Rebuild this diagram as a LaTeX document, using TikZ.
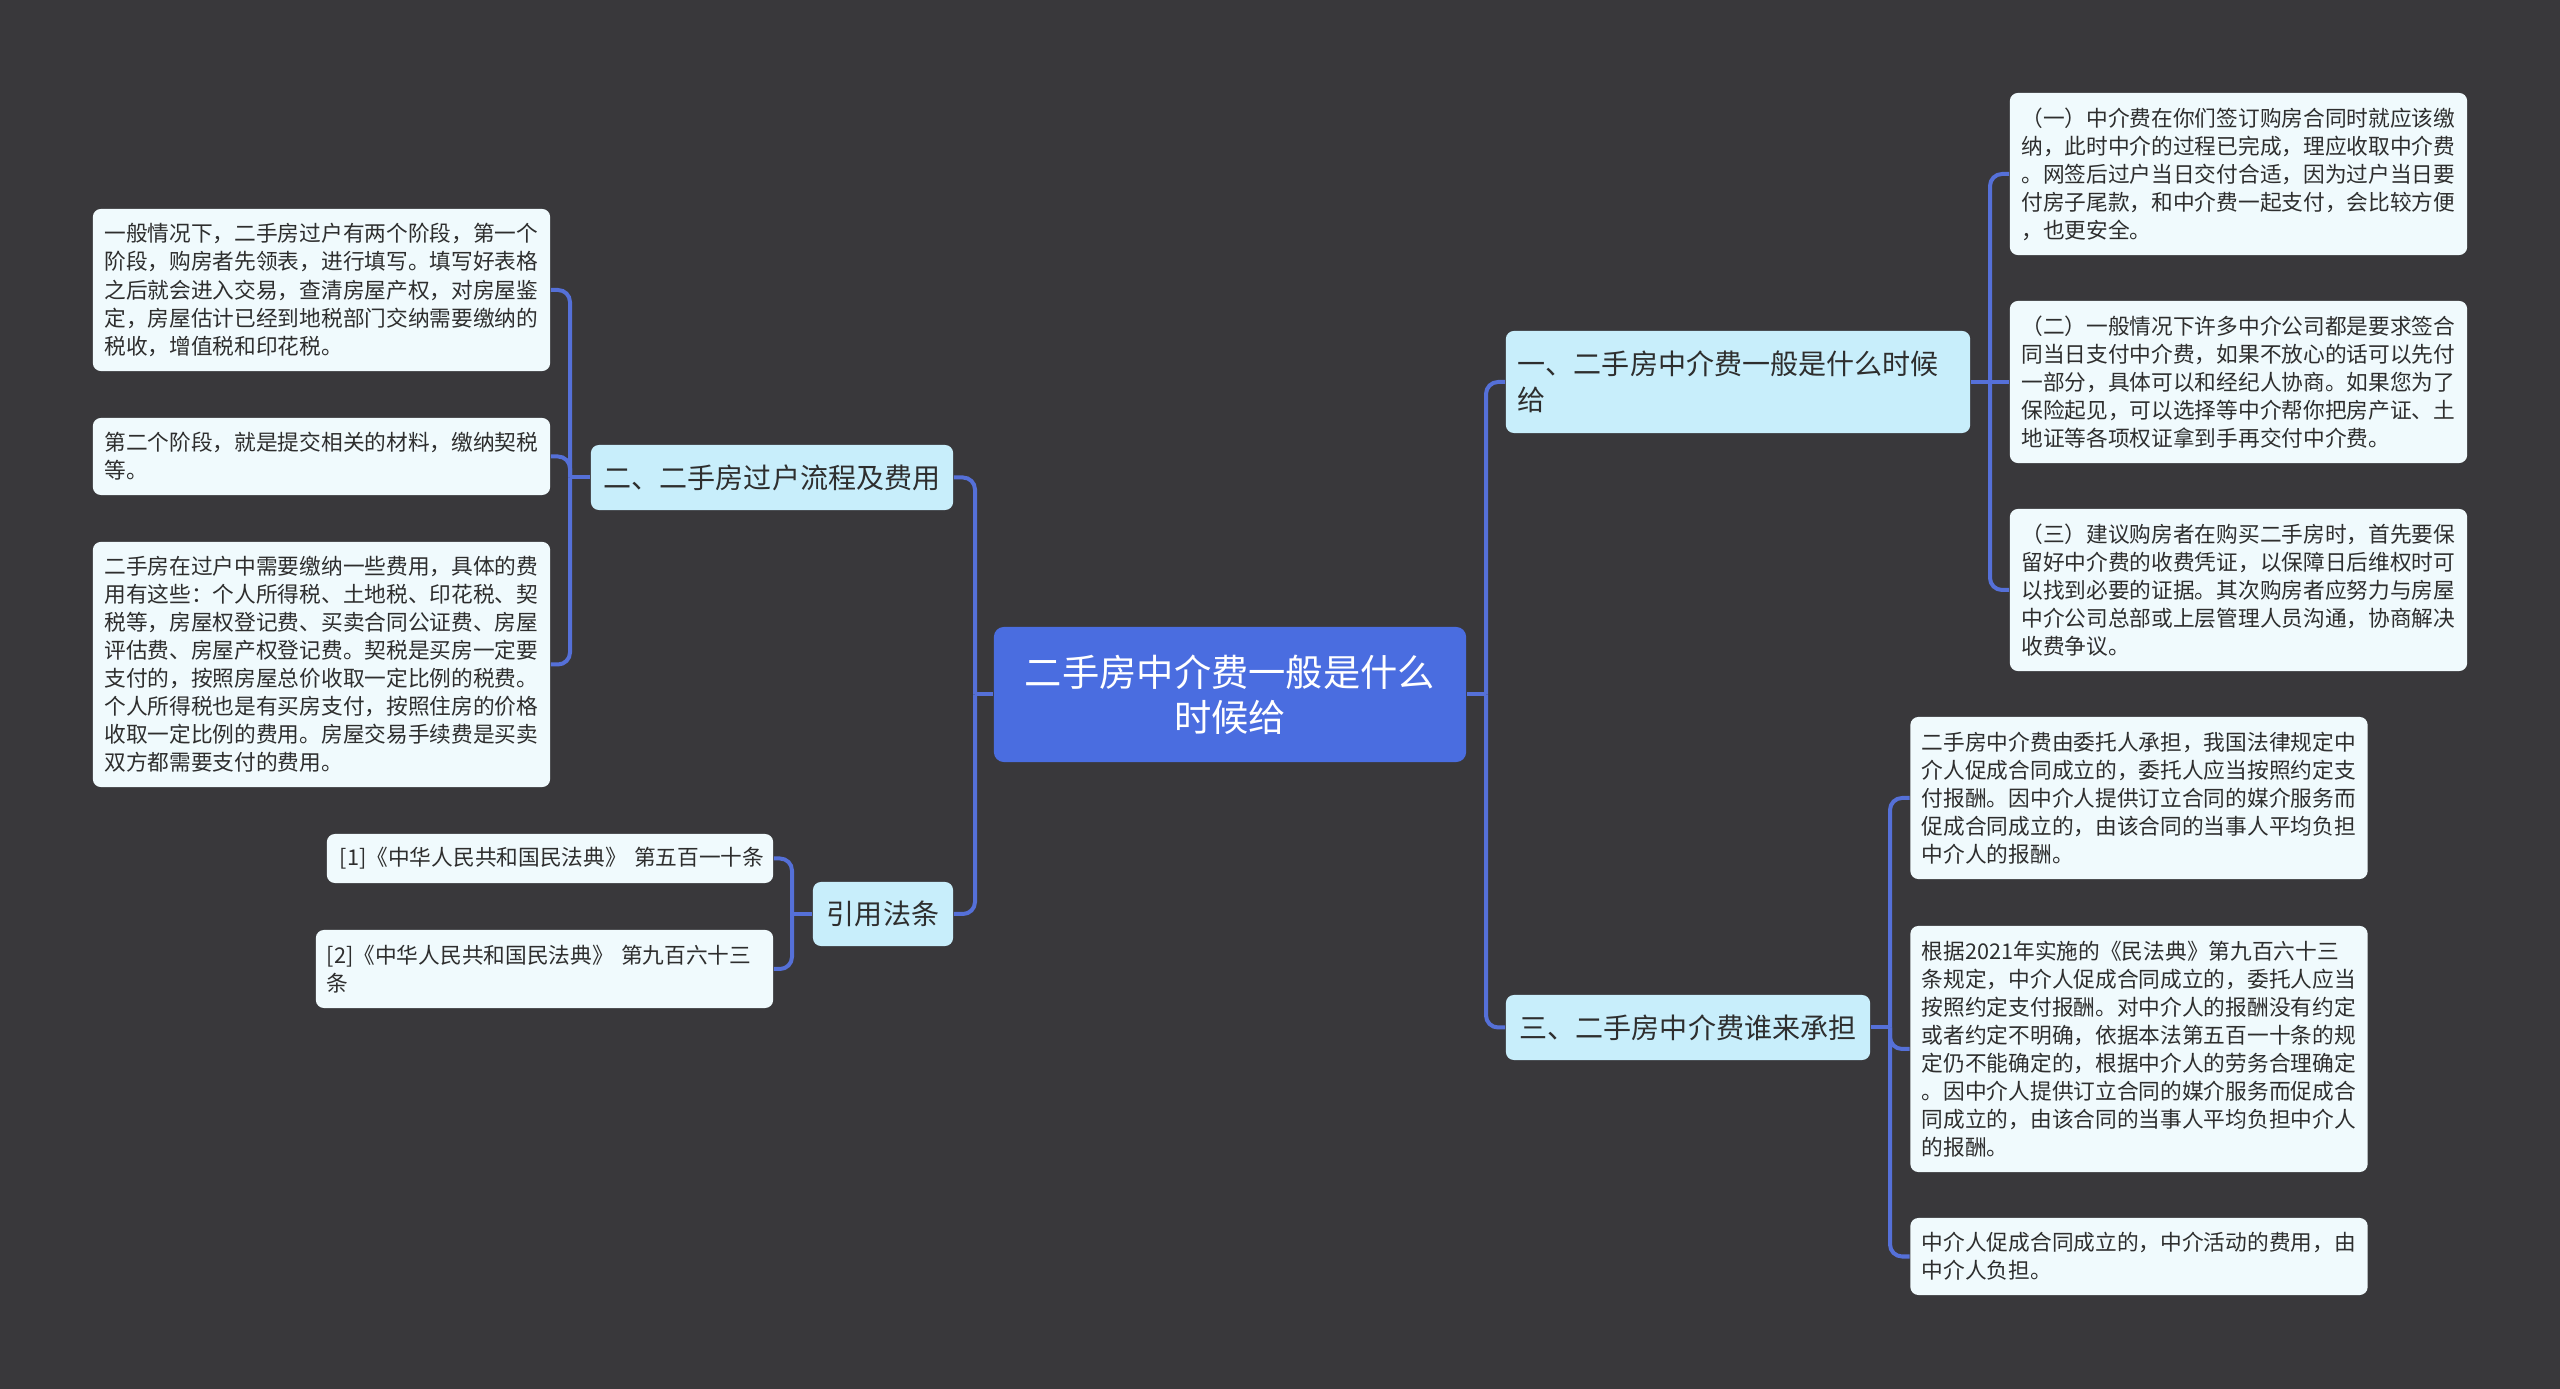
\documentclass[tikz,border=0pt]{standalone}
\usepackage{fontspec}
\setmainfont{Noto Sans CJK SC}
\definecolor{bgc}{HTML}{39383B}
\definecolor{centerc}{HTML}{4A6DE0}
\definecolor{branchc}{HTML}{C8EEFB}
\definecolor{leafc}{HTML}{F0FAFD}
\definecolor{linec}{HTML}{5570D8}
\definecolor{txtc}{HTML}{2E2E2E}
\tikzset{
  leafbox/.style={fill=leafc, rounded corners=0.08cm, text=txtc, inner xsep=0.115cm, inner ysep=0pt,
    text width=4.34cm, align=left, font=\fontsize{6.17pt}{7.97pt}\selectfont},
  citebox/.style={fill=leafc, rounded corners=0.08cm, text=txtc, inner xsep=0.11cm, inner ysep=0pt,
    align=left, font=\fontsize{6.17pt}{7.97pt}\selectfont},
  branchbox/.style={fill=branchc, rounded corners=0.08cm, text=txtc, inner xsep=0.12cm, inner ysep=0pt,
    font=\fontsize{7.97pt}{10.25pt}\selectfont},
  centerbox/.style={fill=centerc, rounded corners=0.1cm, text=white, inner sep=0pt, align=center,
    minimum width=4.72cm, minimum height=1.35cm, font=\fontsize{10.6pt}{12.8pt}\selectfont},
  conn/.style={draw=linec, line width=0.04cm, rounded corners=0.12cm}
}
\begin{document}
\begin{tikzpicture}[x=0.01cm,y=-0.01cm]
\fill[bgc] (0,0) rectangle (2560,1389);
\useasboundingbox (0,0) rectangle (2560,1389);

% root and main branches
\node[centerbox] (root) at (1230,694.5) {二手房中介费一般是什么\\时候给};
\node[branchbox, minimum width=3.62cm, minimum height=0.65cm] (b2) at (772,477.5) {二、二手房过户流程及费用};
\node[branchbox, minimum width=1.40cm, minimum height=0.64cm] (cite) at (883,914) {引用法条};
\node[branchbox, text width=4.40cm, align=left, minimum height=1.02cm] (b1) at (1738,382) {一、二手房中介费一般是什么时候\\给};
\node[branchbox, minimum width=3.64cm, minimum height=0.65cm] (b3) at (1688,1027.5) {三、二手房中介费谁来承担};

% left leaves
\node[leafbox, minimum height=1.62cm] (LL1) at (321.5,290) {一般情况下，二手房过户有两个阶段，第一个\\阶段，购房者先领表，进行填写。填写好表格\\之后就会进入交易，查清房屋产权，对房屋鉴\\定，房屋估计已经到地税部门交纳需要缴纳的\\税收，增值税和印花税。};
\node[leafbox, minimum height=0.77cm] (LL2) at (321.5,456.5) {第二个阶段，就是提交相关的材料，缴纳契税\\等。};
\node[leafbox, minimum height=2.45cm] (LL3) at (321.5,664.5) {二手房在过户中需要缴纳一些费用，具体的费\\用有这些：个人所得税、土地税、印花税、契\\税等，房屋权登记费、买卖合同公证费、房屋\\评估费、房屋产权登记费。契税是买房一定要\\支付的，按照房屋总价收取一定比例的税费。\\个人所得税也是有买房支付，按照住房的价格\\收取一定比例的费用。房屋交易手续费是买卖\\双方都需要支付的费用。};

% citations
\node[citebox, text width=4.24cm, minimum height=0.49cm] (C1) at (550,858.5) {\hspace*{0.02cm}[1]《中华人民共和国民法典》~第五百一十条};
\node[citebox, text width=4.35cm, minimum height=0.78cm] (C2) at (544.5,969) {[2]《中华人民共和国民法典》~第九百六十三\\条};

% right leaves of branch 1
\node[leafbox, minimum height=1.62cm] (R1) at (2238.5,174) {（一）中介费在你们签订购房合同时就应该缴\\纳，此时中介的过程已完成，理应收取中介费\\。网签后过户当日交付合适，因为过户当日要\\付房子尾款，和中介费一起支付，会比较方便\\，也更安全。};
\node[leafbox, minimum height=1.62cm] (R2) at (2238.5,382) {（二）一般情况下许多中介公司都是要求签合\\同当日支付中介费，如果不放心的话可以先付\\一部分，具体可以和经纪人协商。如果您为了\\保险起见，可以选择等中介帮你把房产证、土\\地证等各项权证拿到手再交付中介费。};
\node[leafbox, minimum height=1.62cm] (R3) at (2238.5,590) {（三）建议购房者在购买二手房时，首先要保\\留好中介费的收费凭证，以保障日后维权时可\\以找到必要的证据。其次购房者应努力与房屋\\中介公司总部或上层管理人员沟通，协商解决\\收费争议。};

% right leaves of branch 3
\node[leafbox, minimum height=1.62cm] (T1) at (2139,798) {二手房中介费由委托人承担，我国法律规定中\\介人促成合同成立的，委托人应当按照约定支\\付报酬。因中介人提供订立合同的媒介服务而\\促成合同成立的，由该合同的当事人平均负担\\中介人的报酬。};
\node[leafbox, minimum height=2.46cm] (T2) at (2139,1049) {根据2021年实施的《民法典》第九百六十三\\条规定，中介人促成合同成立的，委托人应当\\按照约定支付报酬。对中介人的报酬没有约定\\或者约定不明确，依据本法第五百一十条的规\\定仍不能确定的，根据中介人的劳务合理确定\\。因中介人提供订立合同的媒介服务而促成合\\同成立的，由该合同的当事人平均负担中介人\\的报酬。};
\node[leafbox, minimum height=0.77cm] (T3) at (2139,1256.5) {中介人促成合同成立的，中介活动的费用，由\\中介人负担。};

% trunk positions
\coordinate (tc1) at (975,0);
\coordinate (tc2) at (1486,0);
\coordinate (tb2) at (570,0);
\coordinate (tci) at (792,0);
\coordinate (tb1) at (1990,0);
\coordinate (tb3) at (1890,0);

% connectors root
\draw[conn] (root.west) -- (tc1 |- root.west);
\draw[conn] (tc1 |- root.west) |- (b2.east);
\draw[conn] (tc1 |- root.west) |- (cite.east);
\draw[conn] (root.east) -- (tc2 |- root.east);
\draw[conn] (tc2 |- root.east) |- (b1.west);
\draw[conn] (tc2 |- root.east) |- (b3.west);

% connectors branch 2
\draw[conn] (b2.west) -- (tb2 |- b2.west);
\draw[conn] (tb2 |- b2.west) |- (LL1.east);
\draw[conn] (tb2 |- b2.west) |- (LL2.east);
\draw[conn] (tb2 |- b2.west) |- (LL3.east);

% connectors citations
\draw[conn] (cite.west) -- (tci |- cite.west);
\draw[conn] (tci |- cite.west) |- (C1.east);
\draw[conn] (tci |- cite.west) |- (C2.east);

% connectors branch 1
\draw[conn] (b1.east) -- (R2.west);
\draw[conn] (tb1 |- b1.east) |- (R1.west);
\draw[conn] (tb1 |- b1.east) |- (R3.west);

% connectors branch 3
\draw[conn] (b3.east) -- (tb3 |- b3.east);
\draw[conn] (tb3 |- b3.east) |- (T1.west);
\draw[conn] (tb3 |- b3.east) |- (T2.west);
\draw[conn] (tb3 |- b3.east) |- (T3.west);
\end{tikzpicture}
\end{document}
